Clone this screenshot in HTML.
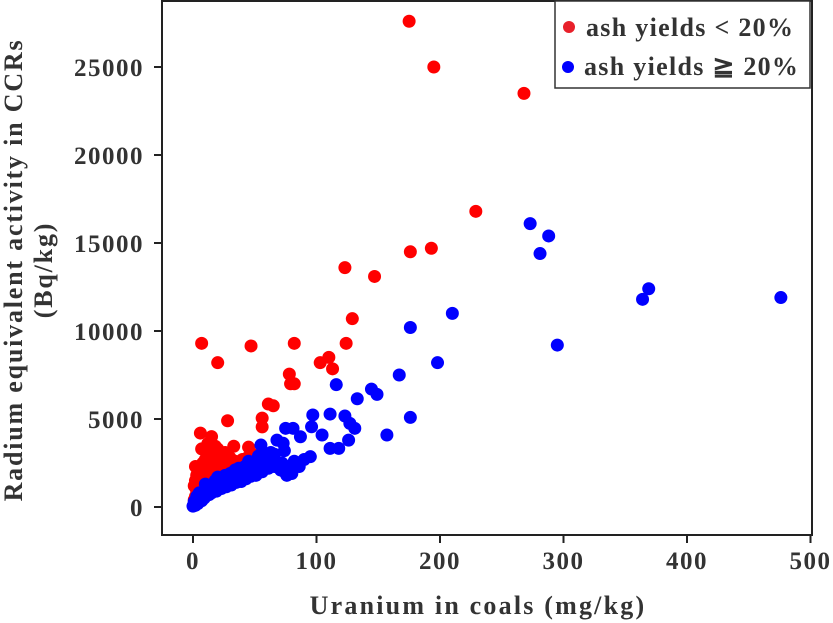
<!DOCTYPE html>
<html><head><meta charset="utf-8">
<style>
html,body{margin:0;padding:0;background:#fff;}
svg{display:block;font-family:"Liberation Serif",serif;font-weight:bold;}
</style></head>
<body>
<svg id="chart" width="833" height="623" viewBox="0 0 833 623"></svg>
<script>
const xTicks=[0,100,200,300,400,500];
const yTicks=[0,5000,10000,15000,20000,25000];
const redU=[175,195,268,229,193,176,123,147,129,124,7,47,82,20,103,110,113,78,79,82,61,65,56,56,28,6,15,7,18,33,45,2,
 3,5,8,10,12,14,16,18,20,22,25,28,30,35,38,40,42,4,6,9,11,13,15,17,19,21,24,27,3,5,8,12,2,4,1,1,2,6,10,14,30,36,
 48,44,40,26,23,20,12,9,16,22,30,34,38];
const redA=[27600,25000,23500,16800,14700,14500,13600,13100,10700,9300,9300,9150,9300,8200,8200,8500,7850,7550,7000,7000,5850,5750,5050,4550,4900,4200,4000,3300,3450,3450,3400,2300,
 1800,2100,2500,2700,2900,3100,2600,2300,2800,2500,2600,2300,2400,2200,2300,2100,2000,1300,1600,1900,2000,2200,1700,1900,2000,2100,1900,1800,900,1100,1400,1500,600,800,400,1200,1500,1100,1300,1400,1600,2000,
 3000,2800,2700,3100,2900,3300,3600,2400,3200,2900,2800,2600,2500];
const blueU=[273,288,281,369,364,476,210,176,295,198,167,144.5,149,133,116,97,111,123,127,131,126,118,111,157,176,104.5,96,75,81,87,95,55,68,73,
 0,1,2,3,4,5,6,8,10,12,14,16,18,20,22,24,26,28,30,32,34,36,38,40,42,44,46,48,50,52,55,58,60,62,64,66,68,70,72,74,76,78,80,
 2,4,7,9,11,13,15,19,23,27,31,35,39,43,47,51,56,61,66,71,76,1,3,5,37,45,53,63,
 10,18,26,34,42,50,58,66,74,82,86,90,20,30,48];
const blueA=[16100,15400,14400,12400,11800,11900,11000,10200,9200,8200,7500,6700,6400,6150,6950,5230,5280,5170,4750,4470,3800,3330,3330,4090,5090,4090,4560,4470,4470,3990,2860,3520,3800,3620,
 50,150,300,400,500,600,700,800,900,1000,1000,1100,1200,1200,1300,1400,1500,1500,1600,1700,1700,1800,1900,2000,2100,2100,2200,2300,2400,2400,2500,2600,2700,2700,2800,2400,2300,2200,2500,2000,2300,2100,1900,
 100,200,350,500,650,700,800,900,1050,1150,1250,1400,1450,1600,1750,1800,2000,2200,2300,2100,1800,300,600,800,2200,2600,2900,3100,
 1300,1500,1800,2100,2300,2500,2900,3000,3200,2600,2300,2700,1700,1900,2000];
const svg=document.getElementById('chart');
const NS='http://www.w3.org/2000/svg';
const x0=193, xPer=1.235, y0=507, yPer=0.0176;
function sx(u){return x0+u*xPer;}
function sy(a){return y0-a*yPer;}
function mk(tag,attrs,parent){const e=document.createElementNS(NS,tag);for(const k in attrs)e.setAttribute(k,attrs[k]);(parent||svg).appendChild(e);return e;}
const frame=mk('rect',{x:162,y:1,width:650,height:534,fill:'none',stroke:'#222','stroke-width':2});


const gp=mk('g',{});


redU.forEach((u,i)=>{const c=mk('circle',{cx:sx(u),cy:sy(redA[i]),r:6.5,fill:'#ff0000'},gp);

});
blueU.forEach((u,i)=>{const c=mk('circle',{cx:sx(u),cy:sy(blueA[i]),r:6.5,fill:'#0000ff'},gp);

});
xTicks.forEach(t=>{const X=sx(t);
mk('line',{x1:X,y1:535,x2:X,y2:543,stroke:'#222','stroke-width':2});
const tx=mk('text',{x:X,y:569,'text-anchor':'middle','font-size':25,'letter-spacing':1.5,fill:'#333'});tx.textContent=t;

});
yTicks.forEach(t=>{const Y=sy(t);
mk('line',{x1:154,y1:Y,x2:162,y2:Y,stroke:'#222','stroke-width':2});
const tx=mk('text',{x:144,y:Y+9,'text-anchor':'end','font-size':25,'letter-spacing':1.5,fill:'#333'});tx.textContent=t;

});
const xt=mk('text',{x:478,y:614,'text-anchor':'middle','font-size':26,'letter-spacing':2.2,fill:'#333'});xt.textContent='Uranium in coals (mg/kg)';


const yt1=mk('text',{x:0,y:0,'text-anchor':'middle','font-size':26,'letter-spacing':1.8,fill:'#333',transform:'translate(22,270) rotate(-90)'});yt1.textContent='Radium equivalent activity in CCRs';


const yt2=mk('text',{x:0,y:0,'text-anchor':'middle','font-size':26,'letter-spacing':1.8,fill:'#333',transform:'translate(52,270) rotate(-90)'});yt2.textContent='(Bq/kg)';


const lg=mk('g',{});


mk('rect',{x:555,y:1,width:255,height:87,fill:'#fff',stroke:'#333','stroke-width':1.5},lg);
mk('circle',{cx:569,cy:27,r:6,fill:'#e8202a'},lg);
mk('circle',{cx:568,cy:67,r:6,fill:'#0000ff'},lg);
const l1=mk('text',{x:586,y:36,'font-size':26,'letter-spacing':1.3,fill:'#333'},lg);l1.textContent='ash yields < 20%';


const l2=mk('text',{x:584,y:75,'font-size':26,'letter-spacing':1.3,fill:'#333'},lg);l2.textContent='ash yields \u2267 20%';


</script>
</body></html>
